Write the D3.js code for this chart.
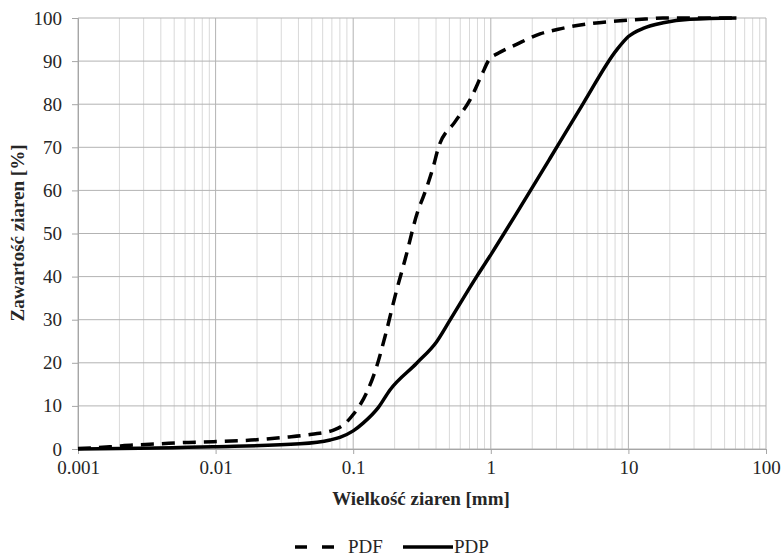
<!DOCTYPE html>
<html>
<head>
<meta charset="utf-8">
<script src="https://cdn.jsdelivr.net/npm/d3@7/dist/d3.min.js"></script>
<style>
  body { margin: 0; background: #fff; }
  svg { display: block; }
  text { font-family: "Liberation Serif", "Times New Roman", serif; fill: #262626; }
</style>
</head>
<body>
<svg id="chart" width="781" height="557"></svg>
<script>
// ---- data ----
const pdfSize = [0.001, 0.0017, 0.0025, 0.0039, 0.0058, 0.0096, 0.021, 0.031, 0.05, 0.072, 0.085, 0.1, 0.125, 0.148, 0.17, 0.207, 0.238, 0.297, 0.323, 0.382, 0.415, 0.549, 0.706, 0.859, 0.975, 1.13, 1.54, 2.28, 3.09, 5.26, 8.2, 13.9, 17.8, 30, 61];
const pdfValue = [0.1, 0.5, 0.9, 1.2, 1.5, 1.7, 2.2, 2.7, 3.4, 4.4, 5.6, 8.0, 13.0, 19.1, 26.0, 36.9, 43.9, 55.5, 58.5, 65.5, 69.8, 75.9, 81.0, 86.8, 90.4, 91.8, 93.9, 96.3, 97.4, 98.7, 99.3, 99.8, 100, 100, 100];
const pdpSize = [0.001, 0.0096, 0.041, 0.068, 0.08, 0.1, 0.118, 0.152, 0.185, 0.289, 0.404, 0.505, 0.789, 1.015, 1.82, 2.69, 4.7, 8.22, 10, 12.8, 17.9, 28, 61];
const pdpValue = [0.0, 0.5, 1.2, 2.1, 2.7, 4.2, 6.0, 9.6, 13.7, 19.9, 24.9, 29.9, 40.0, 45.4, 58.5, 67.4, 80.2, 92.6, 95.7, 97.6, 98.9, 99.7, 100];
const xTicks = [0.001, 0.01, 0.1, 1, 10, 100];
const xTickLabels = ["0.001", "0.01", "0.1", "1", "10", "100"];
const yTicks = [0, 10, 20, 30, 40, 50, 60, 70, 80, 90, 100];
const seriesNames = ["PDF", "PDP"];
const xTitle = "Wielkość ziaren [mm]";
const yTitle = "Zawartość ziaren [%]";

// ---- layout ----
const L = 78, R = 766, T = 18, B = 449;
const FS = 19;
const svg = d3.select("#chart");
const x = d3.scaleLog().domain([0.001, 100]).range([L, R]);
const y = d3.scaleLinear().domain([0, 100]).range([B, T]);

// minor vertical gridlines
const minor = [];
for (let e = -3; e < 2; e++) for (let m = 2; m <= 9; m++) minor.push(m * Math.pow(10, e));
svg.append("g").selectAll("line").data(minor).join("line")
  .attr("x1", d => x(d)).attr("x2", d => x(d)).attr("y1", T).attr("y2", B)
  .attr("stroke", "#d9d9d9").attr("stroke-width", 1);
// major vertical gridlines
svg.append("g").selectAll("line").data(xTicks).join("line")
  .attr("x1", d => x(d)).attr("x2", d => x(d)).attr("y1", T).attr("y2", B)
  .attr("stroke", "#b3b3b3").attr("stroke-width", 1);
// horizontal gridlines
svg.append("g").selectAll("line").data(yTicks).join("line")
  .attr("x1", L).attr("x2", R).attr("y1", d => y(d)).attr("y2", d => y(d))
  .attr("stroke", "#b3b3b3").attr("stroke-width", 1);

// axes
const xAxis = d3.axisBottom(x).tickValues(xTicks).tickFormat((d, i) => xTickLabels[i]).tickSize(5).tickPadding(7);
const gx = svg.append("g").attr("transform", `translate(0,${B})`).call(xAxis);
const yAxis = d3.axisLeft(y).tickValues(yTicks).tickSize(6).tickPadding(10);
const gy = svg.append("g").attr("transform", `translate(${L},0)`).call(yAxis);
[gx, gy].forEach(g => {
  g.attr("font-size", FS).attr("font-family", "Liberation Serif");
  g.select(".domain").attr("stroke", "#a6a6a6");
  g.selectAll(".tick line").attr("stroke", "#a6a6a6");
  g.selectAll(".tick text").attr("font-size", FS).attr("font-family", "Liberation Serif").attr("fill", "#262626");
});

// curves
const line = d3.line().x(d => x(d[0])).y(d => y(d[1])).curve(d3.curveMonotoneX);
const pdfData = pdfSize.map((s, i) => [s, pdfValue[i]]);
const pdpData = pdpSize.map((s, i) => [s, pdpValue[i]]);
svg.append("path").attr("d", line(pdfData)).attr("fill", "none")
  .attr("stroke", "#000").attr("stroke-width", 3.5).attr("stroke-dasharray", "13,8");
svg.append("path").attr("d", line(pdpData)).attr("fill", "none")
  .attr("stroke", "#000").attr("stroke-width", 3.5);

// titles
svg.append("text").attr("x", 421).attr("y", 505).attr("text-anchor", "middle")
  .attr("font-size", FS).attr("font-weight", "bold").attr("fill", "#000").text(xTitle);
svg.append("text").attr("transform", "translate(24,233) rotate(-90)").attr("text-anchor", "middle")
  .attr("font-size", FS).attr("font-weight", "bold").attr("fill", "#000").text(yTitle);

// legend
const lg = svg.append("g");
lg.append("line").attr("x1", 295).attr("x2", 337).attr("y1", 547).attr("y2", 547)
  .attr("stroke", "#000").attr("stroke-width", 3.5).attr("stroke-dasharray", "12,15");
lg.append("text").attr("x", 348).attr("y", 553).attr("font-size", FS).text(seriesNames[0]);
lg.append("line").attr("x1", 403).attr("x2", 453).attr("y1", 547).attr("y2", 547)
  .attr("stroke", "#000").attr("stroke-width", 3.5);
lg.append("text").attr("x", 454).attr("y", 553).attr("font-size", FS).text(seriesNames[1]);
</script>
</body>
</html>
